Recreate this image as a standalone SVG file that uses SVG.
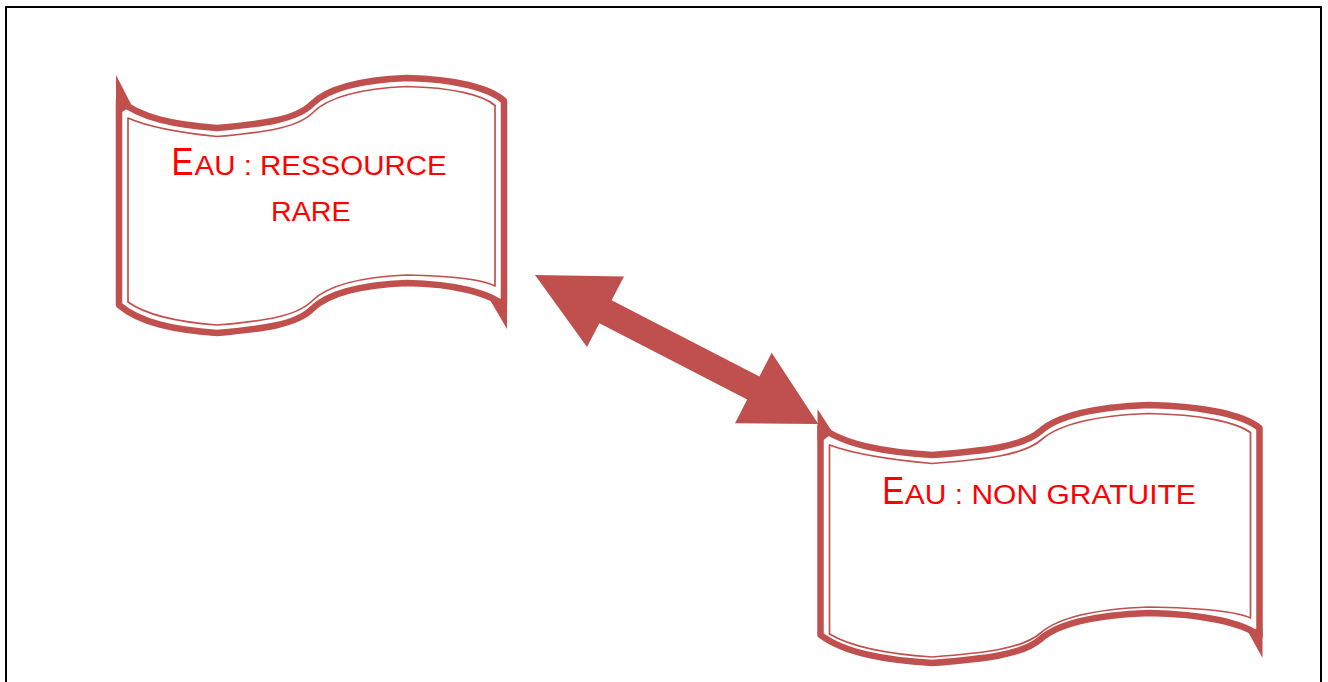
<svg xmlns="http://www.w3.org/2000/svg" width="1328" height="682" viewBox="0 0 1328 682">
<style>
.outer{fill:#FFFFFF;stroke:#C0504D;stroke-width:6.5;stroke-linejoin:round}
.inner{fill:none;stroke:#C0504D;stroke-width:1.7;stroke-linejoin:round}
.spike{fill:#C0504D}
.big{font-family:"Liberation Sans",Arial,sans-serif;font-size:38.5px;fill:#FF0000}
.sc{font-family:"Liberation Sans",Arial,sans-serif;font-size:27px;fill:#FF0000}
.arrow{fill:#C0504D}
</style>
<rect x="0" y="0" width="1328" height="682" fill="#FFFFFF"/>
<rect x="6" y="7" width="1315" height="700" fill="none" stroke="#000000" stroke-width="2"/>
<g id="node-ressource-rare">
<path class="outer" d="M119,100 C140,118 175,125 217,128 C262,124 296,120 312,104 C328,88 360,80 407,78 C455,79 490,88 504,101 L504,306 C490,293 455,284 407,283 C360,285 328,293 312,309 C296,325 262,329 217,333 C175,330 140,323 119,305 Z"/>
<path class="inner" d="M128,118 C146,126 178,132.5 217,136.5 C262,132.5 297,128.5 313,112.5 C329,96.5 361,88.5 407,86.5 C452,87.5 483,95 495,105.5 L495,286 C484,280 455,276 407,275 C360,277 328,285 312,301 C296,317 262,321 217,325 C178,322 146,315 128,302 Z"/>
<polygon class="spike" points="116,75 132,106 122,112 116,112"/>
<polygon class="spike" points="507,329 507,298 490,300"/>
<text class="big" x="171.4" y="174.5" textLength="22" lengthAdjust="spacingAndGlyphs">E</text>
<text class="sc" x="194.6" y="174.5" textLength="252" lengthAdjust="spacingAndGlyphs">AU : RESSOURCE</text>
<text class="sc" x="271" y="221" textLength="79.7" lengthAdjust="spacingAndGlyphs">RARE</text>
</g>
<g id="node-non-gratuite">
<path class="outer" d="M820.5,427 C844.4,445 884.4,452 932.2,455 C983.6,451 1022.3,447 1040.6,431 C1058.8,415 1095.3,407 1148.9,405 C1203.6,406 1243.5,415 1259.5,428 L1259.5,636 C1243.5,623 1203.6,614 1148.9,613 C1095.3,615 1058.8,623 1040.6,639 C1022.3,655 983.6,659 932.2,663 C884.4,660 844.4,653 820.5,635 Z"/>
<path class="inner" d="M829.5,445 C851.3,453 887.8,459.5 932.2,463.5 C983.6,459.5 1023.5,455.5 1041.7,439.5 C1060,423.5 1096.5,415.5 1148.9,413.5 C1200.2,414.5 1235.6,422 1250.5,432.5 L1250.5,618 C1237.9,612 1203.6,608 1148.9,607 C1095.3,609 1058.8,617 1040.6,633 C1022.3,649 983.6,653 932.2,657 C887.8,654 851.3,647 829.5,634 Z"/>
<polygon class="spike" points="817.5,409 833,433 823.5,440 817.5,440"/>
<polygon class="spike" points="1262.5,658 1262.5,628 1247,630"/>
<text class="big" x="882.2" y="504" textLength="22" lengthAdjust="spacingAndGlyphs">E</text>
<text class="sc" x="904.8" y="504" textLength="291" lengthAdjust="spacingAndGlyphs">AU : NON GRATUITE</text>
</g>
<g id="connectors">
<polygon class="arrow" points="535,275 624,276.5 611.6,300.3 759.4,376.5 771.7,352.7 818.3,424 735,423.3 747.2,399.5 599.4,323.3 587,347"/>
</g>
</svg>
